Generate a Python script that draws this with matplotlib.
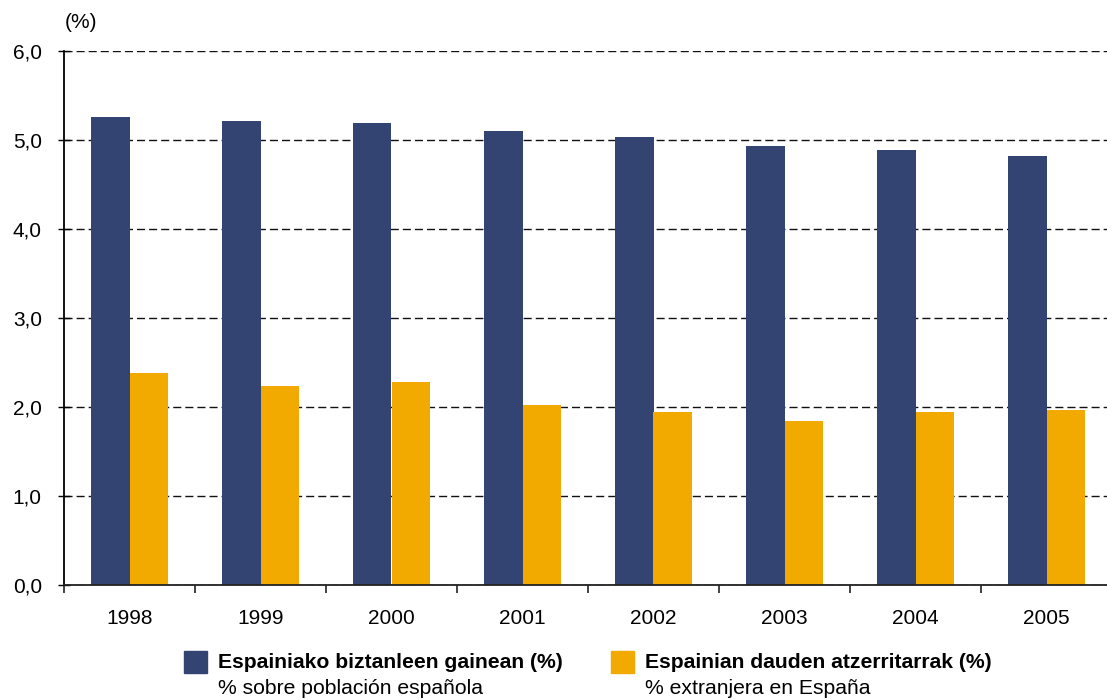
import matplotlib
matplotlib.use("Agg")
import matplotlib.pyplot as plt
from matplotlib.patches import Rectangle
import numpy as np

plt.rcParams['font.family'] = ['Liberation Sans', 'DejaVu Sans']

years = ["1998", "1999", "2000", "2001", "2002", "2003", "2004", "2005"]
pct_spanish_pop = [5.26, 5.21, 5.19, 5.10, 5.03, 4.93, 4.89, 4.82]
pct_foreigners = [2.38, 2.24, 2.28, 2.02, 1.94, 1.84, 1.94, 1.97]
y_ticks = [0.0, 1.0, 2.0, 3.0, 4.0, 5.0, 6.0]
y_tick_labels = ["0,0", "1,0", "2,0", "3,0", "4,0", "5,0", "6,0"]
series_titles = ["Espainiako biztanleen gainean (%)", "Espainian dauden atzerritarrak (%)"]
series_subtitles = ["% sobre población española", "% extranjera en España"]

BLUE = "#334473"
ORANGE = "#F2A900"

W, H = 1107, 700
fig = plt.figure(figsize=(W / 100, H / 100), dpi=100)
# axes spans x 64..1112 px, y 51..585 px
ax = fig.add_axes([64 / W, (H - 585) / H, 1048 / W, (585 - 51) / H])

x = np.arange(len(years))
bw = 0.293
ax.bar(x - bw / 2, pct_spanish_pop, width=bw, color=BLUE, zorder=3)
ax.bar(x + bw / 2, pct_foreigners, width=bw, color=ORANGE, zorder=3)

ax.set_xlim(-0.5, len(years) - 0.5)
ax.set_ylim(0, 6)

ax.set_yticks(y_ticks)
ax.set_yticklabels(y_tick_labels)
ax.yaxis.grid(True, color="#111111", linewidth=1.0, linestyle=(0, (5.8, 2.9)), zorder=1)
ax.set_axisbelow(True)

ax.set_xticks(x, minor=True)
ax.set_xticklabels(years, minor=True)
ax.set_xticks(np.arange(len(years) + 1) - 0.5)
ax.set_xticklabels([])
ax.tick_params(axis="x", which="minor", length=0, pad=17, labelsize=15)
ax.tick_params(axis="x", which="major", length=6, width=1.2, direction="out", color="#222222")
ax.tick_params(axis="y", length=8, width=1.0, direction="inout", pad=12, labelsize=15)

for side in ("top", "right"):
    ax.spines[side].set_visible(False)
ax.spines["left"].set_linewidth(1.3)
ax.spines["bottom"].set_linewidth(1.3)
ax.spines["bottom"].set_color("#222222")
ax.spines["bottom"].set_zorder(4)

fig.text(65 / W, 1 - 22 / H, "(%)", fontsize=15, ha="left", va="center")

# legend entries: colour swatch, bold title, plain subtitle
legend_items = [(184, BLUE), (611, ORANGE)]
for (px, col), title, sub in zip(legend_items, series_titles, series_subtitles):
    fig.patches.append(Rectangle((px / W, 1 - 673 / H), 23 / W, 22 / H,
                                 transform=fig.transFigure, color=col, figure=fig))
    fig.text((px + 34) / W, 1 - 663 / H, title, fontsize=15.2, fontweight="bold",
             ha="left", va="center")
    fig.text((px + 34) / W, 1 - 689 / H, sub, fontsize=15.2, ha="left", va="center")

fig.savefig("out.png", dpi=100)
